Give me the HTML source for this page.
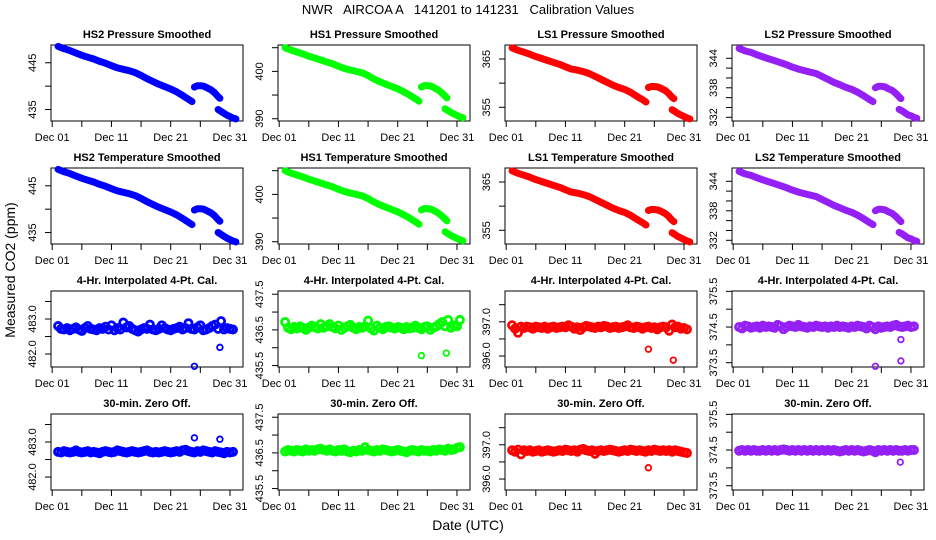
<!DOCTYPE html>
<html><head><meta charset="utf-8"><style>
html,body{margin:0;padding:0;background:#fff}
svg{display:block}
text{font-family:"Liberation Sans",sans-serif;fill:#000}
</style></head><body>
<svg id="chart" width="936" height="540" viewBox="0 0 936 540">
<text x="468" y="14" font-size="13" text-anchor="middle" xml:space="preserve" style="white-space:pre">NWR   AIRCOA A   141201 to 141231   Calibration Values</text>
<text x="15" y="270" font-size="14" text-anchor="middle" transform="rotate(-90 15 270)">Measured CO2 (ppm)</text>
<text x="468" y="530" font-size="14" text-anchor="middle">Date (UTC)</text>
</svg>
<script>
// ---- data ----
const smoothDays = [2,3,4,5,6,7,8,9,10,11,12,13,14,15,16,17,18,19,20,21,22,23,24,24.6,null,25.0,25.5,26.0,26.6,27.2,27.8,28.4,28.9,29.3,null,29.0,29.5,30.0,30.5,31.0,31.5,32.0];
const hs2Smooth = [448.5,448.0,447.6,447.1,446.6,446.2,445.8,445.3,444.9,444.4,443.9,443.6,443.3,442.9,442.3,441.6,441.0,440.4,439.9,439.4,438.8,438.0,437.2,436.7,null,439.8,440.1,440.1,440.0,439.6,439.2,438.6,437.9,437.4,null,435.0,434.6,434.2,433.8,433.5,433.2,433.0];
const hs1Smooth = [405.0,404.5,404.1,403.7,403.2,402.8,402.4,402.0,401.6,401.1,400.6,400.3,400.0,399.7,399.1,398.4,397.8,397.3,396.8,396.3,395.7,395.0,394.2,393.7,null,396.7,397.0,397.0,396.9,396.5,396.1,395.5,394.9,394.4,null,392.1,391.7,391.3,391.0,390.7,390.4,390.2];
const ls1Smooth = [367.3,366.8,366.4,366.0,365.5,365.1,364.7,364.3,363.9,363.4,362.9,362.7,362.4,362.0,361.4,360.8,360.2,359.6,359.1,358.7,358.1,357.3,356.6,356.1,null,359.1,359.3,359.3,359.2,358.9,358.5,357.9,357.2,356.8,null,354.5,354.1,353.7,353.4,353.1,352.8,352.6];
const ls2Smooth = [346.0,345.5,345.2,344.7,344.3,343.9,343.5,343.1,342.7,342.2,341.8,341.5,341.2,340.9,340.3,339.7,339.1,338.6,338.1,337.7,337.1,336.4,335.6,335.2,null,338.0,338.3,338.3,338.2,337.8,337.5,336.9,336.3,335.8,null,333.6,333.3,332.9,332.5,332.3,332.0,331.8];

const noiseDays = [2,2.5,3,3.5,4,4.5,5,5.5,6,6.5,7,7.5,8,8.5,9,9.5,10,10.5,11,11.5,12,12.5,13,13.5,14,14.5,15,15.5,16,16.5,17,17.5,18,18.5,19,19.5,20,20.5,21,21.5,22,22.5,23,23.5,24,24.5,25,25.5,26,26.5,27,27.5,28,28.5,29,29.5,30,30.5,31,31.5];
const hs2Interp = [482.80,482.72,482.70,482.74,482.68,482.72,482.76,482.70,482.66,482.74,482.80,482.72,482.70,482.68,482.74,482.72,482.78,482.70,482.82,482.68,482.74,482.70,482.90,482.76,482.80,482.72,482.68,482.64,482.70,482.74,482.72,482.84,482.70,482.68,482.72,482.82,482.74,482.70,482.68,482.72,482.74,482.78,482.70,482.74,482.88,482.72,482.70,482.76,482.82,482.68,482.70,482.74,482.80,482.84,482.72,482.94,482.70,482.74,482.72,482.70];
const hs2Zero = [482.72,482.70,482.74,482.72,482.70,482.72,482.76,482.72,482.70,482.72,482.74,482.70,482.72,482.70,482.68,482.72,482.74,482.72,482.70,482.72,482.76,482.74,482.72,482.70,482.72,482.74,482.72,482.70,482.72,482.74,482.76,482.72,482.70,482.72,482.70,482.72,482.74,482.72,482.70,482.72,482.74,482.72,482.76,482.78,482.74,482.72,482.70,482.74,482.72,482.76,482.74,482.72,482.70,482.74,482.72,482.70,482.68,482.72,482.70,482.72];
const hs1Interp = [436.72,436.56,436.52,436.58,436.54,436.60,436.56,436.50,436.56,436.62,436.58,436.54,436.66,436.56,436.60,436.66,436.58,436.54,436.62,436.50,436.56,436.60,436.64,436.56,436.52,436.58,436.56,436.60,436.76,436.54,436.48,436.62,436.56,436.52,436.58,436.60,436.56,436.54,436.58,436.56,436.52,436.58,436.54,436.56,436.62,436.56,436.52,436.58,436.60,436.50,436.56,436.60,436.66,436.72,436.60,436.78,436.56,436.62,436.60,436.78];
const hs1Zero = [436.54,436.58,436.56,436.54,436.58,436.56,436.54,436.60,436.56,436.58,436.56,436.60,436.62,436.58,436.56,436.60,436.56,436.54,436.58,436.56,436.60,436.54,436.52,436.56,436.54,436.58,436.56,436.66,436.58,436.56,436.54,436.58,436.56,436.60,436.58,436.56,436.54,436.56,436.58,436.56,436.54,436.52,436.56,436.58,436.56,436.54,436.58,436.56,436.56,436.54,436.58,436.56,436.60,436.58,436.56,436.62,436.58,436.60,436.64,436.66];
const ls1Interp = [396.90,396.80,396.68,396.86,396.82,396.86,396.84,396.80,396.86,396.84,396.82,396.86,396.80,396.84,396.86,396.82,396.84,396.86,396.84,396.90,396.86,396.80,396.84,396.76,396.84,396.88,396.86,396.84,396.82,396.86,396.84,396.88,396.86,396.82,396.84,396.86,396.82,396.84,396.86,396.90,396.84,396.82,396.86,396.84,396.80,396.84,396.86,396.82,396.84,396.78,396.84,396.86,396.84,396.74,396.92,396.84,396.86,396.80,396.82,396.78];
const ls1Zero = [396.84,396.80,396.86,396.72,396.84,396.82,396.84,396.80,396.82,396.84,396.80,396.82,396.84,396.82,396.80,396.82,396.84,396.82,396.86,396.84,396.82,396.84,396.80,396.86,396.88,396.84,396.82,396.84,396.74,396.82,396.84,396.82,396.84,396.86,396.84,396.82,396.80,396.82,396.84,396.82,396.86,396.84,396.82,396.84,396.82,396.80,396.84,396.82,396.86,396.84,396.82,396.84,396.82,396.84,396.80,396.84,396.82,396.80,396.78,396.76];
const ls2Interp = [374.50,374.46,374.54,374.52,374.48,374.50,374.52,374.48,374.54,374.50,374.52,374.50,374.48,374.56,374.52,374.44,374.50,374.54,374.52,374.50,374.56,374.52,374.50,374.48,374.52,374.50,374.54,374.52,374.50,374.52,374.48,374.52,374.50,374.54,374.50,374.52,374.50,374.48,374.52,374.50,374.54,374.52,374.50,374.46,374.54,374.50,374.44,374.52,374.48,374.50,374.52,374.50,374.54,374.56,374.52,374.50,374.52,374.54,374.50,374.52];
const ls2Zero = [374.48,374.50,374.48,374.50,374.48,374.50,374.48,374.48,374.50,374.48,374.50,374.48,374.50,374.48,374.50,374.52,374.50,374.48,374.50,374.48,374.50,374.48,374.50,374.48,374.50,374.48,374.50,374.48,374.50,374.48,374.50,374.48,374.50,374.48,374.46,374.48,374.50,374.48,374.50,374.48,374.50,374.48,374.46,374.48,374.50,374.48,374.44,374.50,374.48,374.50,374.48,374.50,374.48,374.50,374.48,374.48,374.50,374.48,374.50,374.50];

const hs2InterpOutDays = [25.0, 29.3];  const hs2InterpOutVals = [481.65, 482.19];
const hs2ZeroOutDays = [25.0, 29.3];    const hs2ZeroOutVals = [483.12, 483.08];
const hs1InterpOutDays = [25.0, 29.2];  const hs1InterpOutVals = [435.78, 435.85];
const hs1ZeroOutDays = [];              const hs1ZeroOutVals = [];
const ls1InterpOutDays = [25.0, 29.2];  const ls1InterpOutVals = [396.20, 395.88];
const ls1ZeroOutDays = [25.0];          const ls1ZeroOutVals = [396.33];
const ls2InterpOutDays = [25.0, 29.3, 29.3]; const ls2InterpOutVals = [373.40, 374.15, 373.55];
const ls2ZeroOutDays = [29.2];          const ls2ZeroOutVals = [374.16];

const xTickDays = [1,6,11,16,21,26,31];
const xTickLabels = ['Dec 01','','Dec 11','','Dec 21','','Dec 31'];
const colTitles = ['HS2','HS1','LS1','LS2'];
const smoothTicks = [[435,440,445],[390,395,400,405],[355,360,365],[332,334,336,338,340,342,344]];
const smoothLabels = [['435','','445'],['390','','400',''],['355','','365'],['332','','','338','','','344']];
const smoothLims = [[432.55,448.8],[389.52,405.57],[352.16,367.9],[331.25,346.7]];
const noiseTicks = [[482,482.5,483,483.5],[435.5,436,436.5,437,437.5],[396,396.5,397,397.5],[373.5,374,374.5,375,375.5]];
const noiseLabels = [['482.0','','483.0',''],['435.5','','436.5','','437.5'],['396.0','','397.0',''],['373.5','','374.5','','375.5']];
const noiseLims = [[481.63,483.8],[435.46,437.59],[395.68,397.9],[373.38,375.51]];

// ---- layout ----
const NS='http://www.w3.org/2000/svg';
const svg=document.getElementById('chart');
const colors=['#0000ff','#00ff00','#ff0000','#9420f6'];
const lefts=[51,278,505,732], tops=[45,168,291,414], W=192, H=76;
const xlim=[0.8,33.2];
const smoothData=[hs2Smooth,hs1Smooth,ls1Smooth,ls2Smooth];
const interpData=[hs2Interp,hs1Interp,ls1Interp,ls2Interp];
const zeroData=[hs2Zero,hs1Zero,ls1Zero,ls2Zero];
const interpOut=[[hs2InterpOutDays,hs2InterpOutVals],[hs1InterpOutDays,hs1InterpOutVals],[ls1InterpOutDays,ls1InterpOutVals],[ls2InterpOutDays,ls2InterpOutVals]];
const zeroOut=[[hs2ZeroOutDays,hs2ZeroOutVals],[hs1ZeroOutDays,hs1ZeroOutVals],[ls1ZeroOutDays,ls1ZeroOutVals],[ls2ZeroOutDays,ls2ZeroOutVals]];

function mk(tag,attrs,parent){const e=document.createElementNS(NS,tag);for(const k in attrs)e.setAttribute(k,attrs[k]);(parent||svg).appendChild(e);return e;}

function panel(c,r,title,ylim,ticks,labels){
  const L=lefts[c],T=tops[r];
  const g=mk('g',{});
  
  
  const xs=d=>L+(d-xlim[0])/(xlim[1]-xlim[0])*W;
  const ys=v=>T+H-(v-ylim[0])/(ylim[1]-ylim[0])*H;
  const t=mk('text',{x:L+W/2,y:T-7,'font-size':'11','font-weight':'bold','text-anchor':'middle'},g);
  t.textContent=title;
  
  
  const box=mk('rect',{x:L,y:T,width:W,height:H,fill:'none',stroke:'#000','stroke-width':1},g);
  
  
  // x axis
  const xa=mk('g',{},g);
  
  
  xTickDays.forEach((d,i)=>{
    mk('line',{x1:xs(d),x2:xs(d),y1:T+H,y2:T+H+6,stroke:'#000'},xa);
    if(xTickLabels[i]){const tx=mk('text',{x:xs(d),y:T+H+20,'font-size':'11','text-anchor':'middle'},xa);tx.textContent=xTickLabels[i];
      
      }
  });
  // y axis
  const ya=mk('g',{},g);
  
  
  ticks.forEach((v,i)=>{
    mk('line',{x1:L-6,x2:L,y1:ys(v),y2:ys(v),stroke:'#000'},ya);
    if(labels[i]){const X=L-15,Y=ys(v);const ty=mk('text',{x:X,y:Y,'font-size':'11','text-anchor':'middle',transform:'rotate(-90 '+X+' '+Y+')'},ya);ty.textContent=labels[i];
      
      }
  });
  const clip='clip'+c+'_'+r;
  const cp=mk('clipPath',{id:clip},g);mk('rect',{x:L,y:T-4,width:W,height:H+8},cp);
  const dg=mk('g',{'clip-path':'url(#'+clip+')'},g);
  return {xs,ys,dg};
}

for(let c=0;c<4;c++){
  ['Pressure','Temperature'].forEach((kind,r)=>{
    const p=panel(c,r,colTitles[c]+' '+kind+' Smoothed',smoothLims[c],smoothTicks[c],smoothLabels[c]);
    let seg=[];const segs=[];
    smoothDays.forEach((d,i)=>{const v=smoothData[c][i];if(d===null||v===null){if(seg.length)segs.push(seg);seg=[];}else seg.push(p.xs(d).toFixed(1)+','+p.ys(v).toFixed(1));});
    if(seg.length)segs.push(seg);
    segs.forEach(s=>{const pl=mk('polyline',{points:s.join(' '),fill:'none',stroke:colors[c],'stroke-width':7,'stroke-linecap':'round','stroke-linejoin':'round'},p.dg);
      
      });
  });
  [['4-Hr. Interpolated 4-Pt. Cal.',interpData,interpOut],['30-min. Zero Off.',zeroData,zeroOut]].forEach((spec,k)=>{
    const p=panel(c,k+2,spec[0],noiseLims[c],noiseTicks[c],noiseLabels[c]);
    const vals=spec[1][c];
    noiseDays.forEach((d,i)=>{const cc=mk('circle',{cx:p.xs(d),cy:p.ys(vals[i]),r:3.6,fill:'none',stroke:colors[c],'stroke-width':2.8},p.dg);
      
      });
    const od=spec[2][c][0],ov=spec[2][c][1];
    od.forEach((d,i)=>{const cc=mk('circle',{cx:p.xs(d),cy:p.ys(ov[i]),r:2.8,fill:'none',stroke:colors[c],'stroke-width':1.8},p.dg);
      
      });
  });
}
</script>
</body></html>
